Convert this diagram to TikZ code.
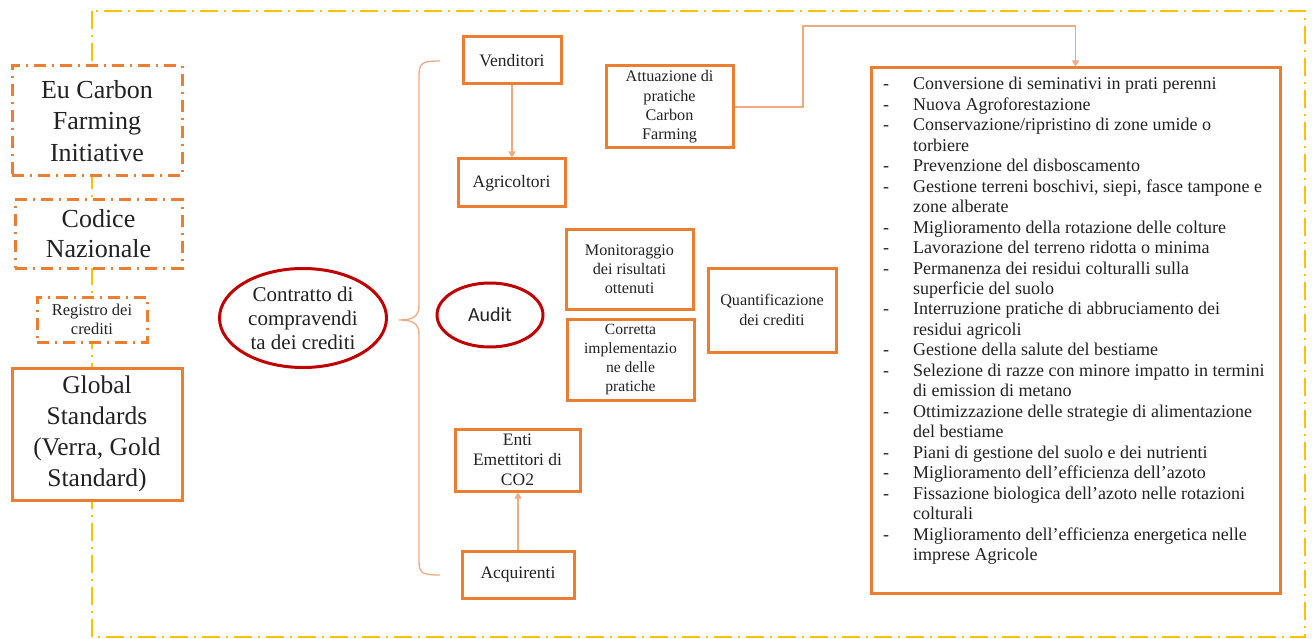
\documentclass[tikz,border=0pt]{standalone}
\usepackage{fontspec}
\setmainfont{Liberation Serif}
\newfontfamily\calib{Carlito}
\usetikzlibrary{arrows.meta,shapes.geometric}

\definecolor{orng}{HTML}{ED7D31}
\definecolor{salmon}{HTML}{EFAA82}
\definecolor{yel}{HTML}{FFC000}
\definecolor{dred}{HTML}{C00000}
\definecolor{ink}{HTML}{222222}

\newcommand{\fsz}[2]{\fontsize{#1}{#2}\selectfont}

\tikzset{
  obox/.style={draw=orng, line width=3pt, fill=white, align=center, inner sep=0pt, text=ink},
  ddbox/.style={obox, dash pattern=on 12pt off 6pt on 2pt off 6pt},
  oval/.style={ellipse, draw=dred, line width=3pt, fill=white, align=center, inner sep=0pt, text=ink},
  frameline/.style={draw=yel, line width=2pt, dash pattern=on 18pt off 6pt on 2pt off 6pt},
  conn/.style={draw=salmon, line width=1.3pt, -{Triangle[length=6pt,width=7pt]}},
  bracket/.style={draw=salmon, line width=1.3pt},
}

\begin{document}
\begin{tikzpicture}[x=1pt,y=-1pt]
\useasboundingbox (0,0) rectangle (1314,639);

% outer frame
\draw[frameline] (92,11) rectangle (1305,637);

% left column of frameworks
\node[ddbox, minimum width=170pt, minimum height=110pt, font=\fsz{26}{31.5}] (eu) at (97,121) {Eu Carbon\\Farming\\Initiative};
\node[ddbox, minimum width=167pt, minimum height=68pt, font=\fsz{26}{30}] (codice) at (98.5,234) {Codice\\Nazionale};
\node[ddbox, minimum width=110pt, minimum height=45pt, font=\fsz{16.5}{19}] (registro) at (92,319.5) {Registro dei\\crediti};
\node[obox, minimum width=170pt, minimum height=132pt, font=\fsz{25.5}{31}] (global) at (97,434) {Global\\Standards\\(Verra, Gold\\Standard)};

% contract
\node[oval, minimum width=167pt, minimum height=99pt, font=\fsz{21}{24}] (contratto) at (303,318) {Contratto di\\compravendi\\ta dei crediti};

% brace
\draw[bracket] (440,61) .. controls (422,61) and (419,63) .. (419,76) -- (419,306)
  .. controls (419,317) and (412,320) .. (399,320)
  .. controls (412,320) and (419,323) .. (419,334) -- (419,561)
  .. controls (419,573) and (422,575) .. (440,575);

% sellers
\node[obox, minimum width=98pt, minimum height=47pt, font=\fsz{17.5}{20}] (vend) at (512,60.5) {Venditori};
\node[obox, minimum width=107pt, minimum height=48pt, font=\fsz{17.5}{20}] (agri) at (511.5,183) {Agricoltori};
\draw[conn] (vend.south) -- (vend.south |- agri.north);

\node[obox, minimum width=127pt, minimum height=82pt, font=\fsz{16.2}{19.3}] (attua) at (669.5,107) {Attuazione di\\pratiche\\Carbon\\Farming};

% audit
\node[oval, minimum width=106pt, minimum height=64pt, font=\calib\fsz{20}{24}] (audit) at (490,315) {Audit};
\node[obox, minimum width=127pt, minimum height=80pt, font=\fsz{16.2}{19}] (monit) at (629.5,269) {Monitoraggio\\dei risultati\\ottenuti};
\node[obox, minimum width=127pt, minimum height=81pt, font=\fsz{15.6}{19}] (corr) at (630.5,359.5) {Corretta\\implementazio\\ne delle\\pratiche};
\node[obox, minimum width=128pt, minimum height=84pt, font=\fsz{16.2}{20}] (quant) at (772,310) {Quantificazione\\dei crediti};

% buyers
\node[obox, minimum width=125pt, minimum height=62pt, font=\fsz{17.5}{20}] (enti) at (517.5,460) {Enti\\Emettitori di\\CO2};
\node[obox, minimum width=112pt, minimum height=47pt, font=\fsz{17.5}{20}] (acq) at (518,574.5) {Acquirenti};
\draw[conn] (acq.north) -- (acq.north |- enti.south);

% list of practices
\node[obox, minimum width=409pt, minimum height=525pt] (lista) at (1075.5,330.5) {};
\node[anchor=north west, align=left, inner sep=0pt, text=ink, font=\fsz{18}{20.48}] (items) at (883,77) {%
\makebox[30pt][l]{-}Conversione di seminativi in prati perenni\\
\makebox[30pt][l]{-}Nuova Agroforestazione\\
\makebox[30pt][l]{-}Conservazione/ripristino di zone umide o\\
\hspace*{30pt}torbiere\\
\makebox[30pt][l]{-}Prevenzione del disboscamento\\
\makebox[30pt][l]{-}Gestione terreni boschivi, siepi, fasce tampone e\\
\hspace*{30pt}zone alberate\\
\makebox[30pt][l]{-}Miglioramento della rotazione delle colture\\
\makebox[30pt][l]{-}Lavorazione del terreno ridotta o minima\\
\makebox[30pt][l]{-}Permanenza dei residui colturalli sulla\\
\hspace*{30pt}superficie del suolo\\
\makebox[30pt][l]{-}Interruzione pratiche di abbruciamento dei\\
\hspace*{30pt}residui agricoli\\
\makebox[30pt][l]{-}Gestione della salute del bestiame\\
\makebox[30pt][l]{-}Selezione di razze con minore impatto in termini\\
\hspace*{30pt}di emission di metano\\
\makebox[30pt][l]{-}Ottimizzazione delle strategie di alimentazione\\
\hspace*{30pt}del bestiame\\
\makebox[30pt][l]{-}Piani di gestione del suolo e dei nutrienti\\
\makebox[30pt][l]{-}Miglioramento dell’efficienza dell’azoto\\
\makebox[30pt][l]{-}Fissazione biologica dell’azoto nelle rotazioni\\
\hspace*{30pt}colturali\\
\makebox[30pt][l]{-}Miglioramento dell’efficienza energetica nelle\\
\hspace*{30pt}imprese Agricole};

% practices feed the list
\coordinate (bend) at (803,26);
\draw[conn] (attua.east) -| (bend) -| (lista.north);
\end{tikzpicture}
\end{document}
